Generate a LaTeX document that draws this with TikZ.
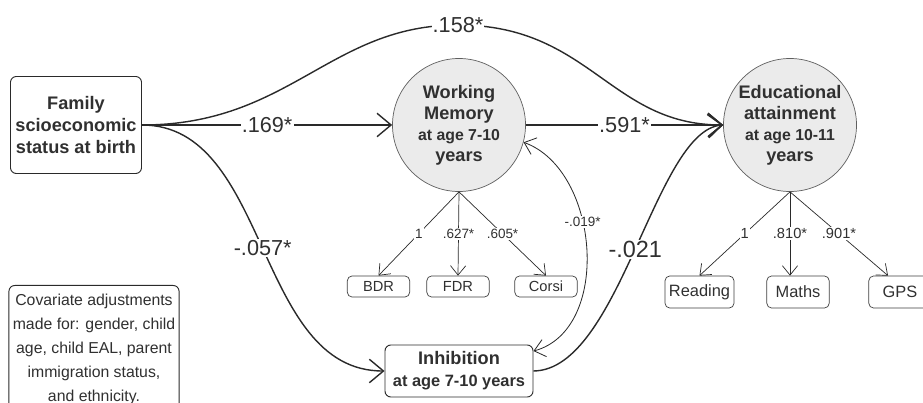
\documentclass[tikz,border=0pt]{standalone}
\usepackage{fontspec}
\setmainfont{Liberation Sans}
\usetikzlibrary{arrows.meta}
\definecolor{edge}{HTML}{2A2A2A}
\definecolor{txt}{HTML}{303030}
\definecolor{latentfill}{HTML}{EBEBEB}

\begin{document}
\begin{tikzpicture}[x=0.03cm, y=-0.03cm, line join=round,
    every node/.style={text=txt},
    varbox/.style={draw=edge, rounded corners=5pt, line width=0.8pt, align=center},
    latent/.style={circle, draw=edge!75, fill=latentfill, line width=0.6pt,
      inner sep=0pt, minimum size=3.99cm, align=center},
    ind/.style={draw=edge!90, rounded corners=4pt, line width=0.6pt, minimum width=1.87cm},
    effect/.style={draw=edge, line width=1.2pt,
      -{Straight Barb[length=12pt,width=20pt]}},
    corr/.style={draw=edge, line width=0.7pt,
      {Straight Barb[length=9pt,width=15pt]}-{Straight Barb[length=9pt,width=15pt]}},
    loading/.style={draw=edge, line width=0.6pt,
      -{Straight Barb[length=8pt,width=13pt]}},
    coef/.style={fill=white, inner sep=1pt, font=\fontsize{18.5}{20}\selectfont},
    lcoef/.style={fill=white, inner sep=1pt, font=\fontsize{11.5}{13}\selectfont}]
  \useasboundingbox (0,0) rectangle (923,403);

  % observed and latent variables
  \node[varbox, minimum width=3.93cm, minimum height=2.91cm,
    font=\bfseries\fontsize{15.5}{18.5}\selectfont] (ses) at (76,125)
    {Family\\scioeconomic\\status at birth};
  \node[latent, font=\bfseries\fontsize{15.5}{18}\selectfont] (wm) at (459,125)
    {Working\\Memory\\\fontsize{13.5}{18}\selectfont at age 7-10\\years};
  \node[latent, font=\bfseries\fontsize{15.5}{18}\selectfont] (ea) at (790,125)
    {Educational\\attainment\\\fontsize{13.5}{18}\selectfont at age 10-11\\years};
  \node[varbox, minimum width=4.44cm, minimum height=1.56cm,
    font=\bfseries\fontsize{15.5}{19}\selectfont] (inh) at (459,371)
    {Inhibition\\\fontsize{14}{19}\selectfont at age 7-10 years};

  % indicators
  \node[ind, minimum height=0.63cm, font=\fontsize{12.5}{14}\selectfont] (bdr) at (378.5,286.5) {BDR};
  \node[ind, minimum height=0.63cm, font=\fontsize{12.5}{14}\selectfont] (fdr) at (458,286.5) {FDR};
  \node[ind, minimum height=0.63cm, font=\fontsize{12.5}{14}\selectfont] (corsi) at (546,286.5) {Corsi};
  \node[ind, minimum height=0.96cm, font=\fontsize{14}{15}\selectfont] (reading) at (699.5,292) {Reading};
  \node[ind, minimum height=0.96cm, font=\fontsize{14}{15}\selectfont] (maths) at (798,292) {Maths};
  \node[ind, minimum height=0.96cm, font=\fontsize{14}{15}\selectfont] (gps) at (900,292) {GPS};

  \node[varbox, anchor=north, minimum width=4.98cm, inner ysep=7pt,
    font=\fontsize{13.5}{20.5}\selectfont] (cov) at (94,285)
    {Covariate adjustments\\made for: gender, child\\age, child EAL, parent\\immigration status,\\and ethnicity.};

  % structural paths
  \coordinate (top) at (458,25);
  \draw[effect] (ses.east) .. controls (290,125) and (330,25) .. (top) node[coef] {.158*}
    .. controls (590,25) and (610,125) .. (ea.west);
  \draw[effect] (ses.east) -- node[coef] {.169*} (wm.west);
  \draw[effect] (wm.east) -- node[coef] {.591*} (ea.west);
  \draw[effect] (ses.east) .. controls (270,125) and (255,371) .. node[coef] {-.057*} (inh.west);
  \draw[effect] (inh.east) .. controls (620,370) and (655,130) ..
    node[coef, font=\fontsize{20}{22}\selectfont] {-.021} (ea.west);
  \draw[corr] (wm.-15) .. controls (600,170) and (612,330) .. node[lcoef, pos=0.4] {-.019*} (inh.15);

  % measurement model
  \draw[loading] (wm.south) -- node[lcoef] {1} (bdr.north);
  \draw[loading] (wm.south) -- node[lcoef] {.627*} (fdr.north);
  \draw[loading] (wm.south) -- node[lcoef] {.605*} (corsi.north);
  \draw[loading] (ea.south) -- node[lcoef, font=\fontsize{12.5}{14}\selectfont] {1} (reading.north);
  \draw[loading] (ea.south) -- node[lcoef, font=\fontsize{12.5}{14}\selectfont] {.810*} (ea.south |- maths.north);
  \draw[loading] (ea.south) -- node[lcoef, font=\fontsize{12.5}{14}\selectfont] {.901*} ([xshift=-0.36cm]gps.north);
\end{tikzpicture}
\end{document}
